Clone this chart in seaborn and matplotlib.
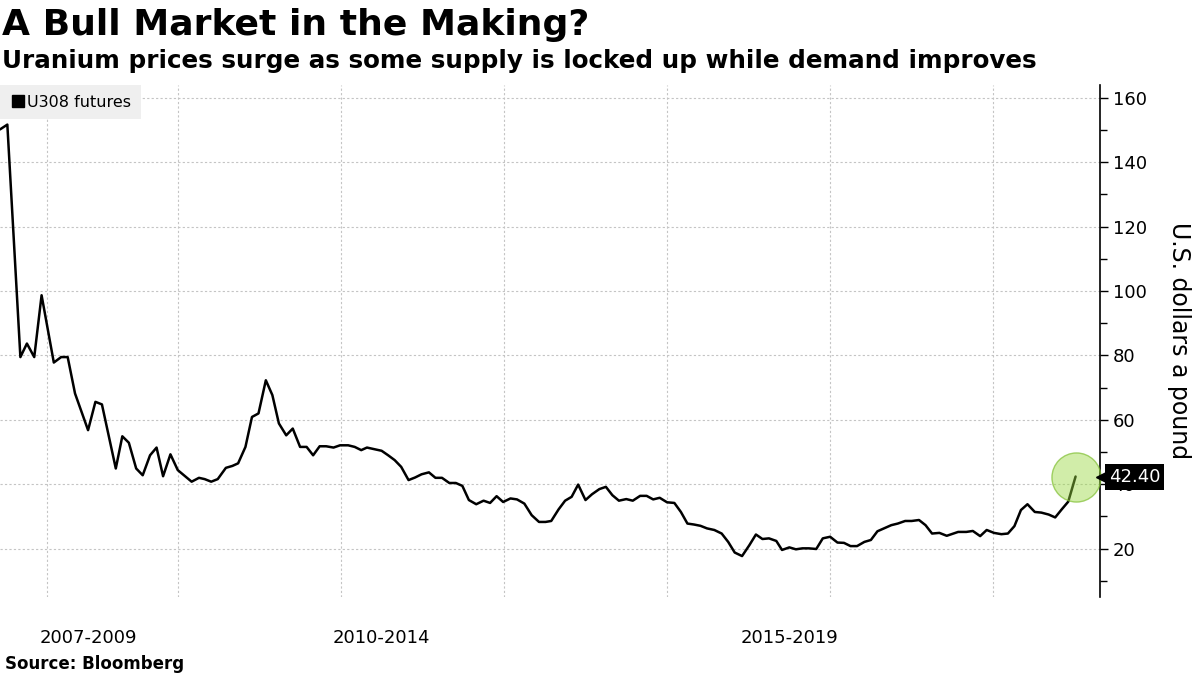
import matplotlib
matplotlib.use("Agg")
import matplotlib.pyplot as plt
from matplotlib.lines import Line2D
import seaborn as sns
import pandas as pd

# monthly U308 futures, x in decimal years
years = [
    2007.82, 2007.91, 2008.07, 2008.15, 2008.24, 2008.33, 2008.48, 2008.57, 2008.65, 2008.74,
    2008.90, 2008.99, 2009.07, 2009.24, 2009.32, 2009.40, 2009.49, 2009.57, 2009.66, 2009.74,
    2009.82, 2009.91, 2010.00, 2010.17, 2010.26, 2010.33, 2010.41, 2010.49, 2010.59, 2010.67,
    2010.74, 2010.83, 2010.91, 2010.99, 2011.08, 2011.16, 2011.24, 2011.33, 2011.41, 2011.50,
    2011.58, 2011.66, 2011.74, 2011.82, 2011.91, 2011.99, 2012.09, 2012.17, 2012.25, 2012.32,
    2012.41, 2012.50, 2012.58, 2012.66, 2012.74, 2012.83, 2012.91, 2012.99, 2013.08, 2013.16,
    2013.24, 2013.33, 2013.41, 2013.49, 2013.57, 2013.66, 2013.75, 2013.83, 2013.91, 2013.99,
    2014.08, 2014.16, 2014.25, 2014.34, 2014.43, 2014.51, 2014.58, 2014.67, 2014.75, 2014.83,
    2014.91, 2015.00, 2015.08, 2015.17, 2015.25, 2015.33, 2015.41, 2015.50, 2015.58, 2015.67,
    2015.75, 2015.83, 2015.91, 2016.00, 2016.09, 2016.17, 2016.25, 2016.33, 2016.41, 2016.49,
    2016.58, 2016.67, 2016.75, 2016.83, 2016.92, 2017.01, 2017.09, 2017.17, 2017.25, 2017.34,
    2017.41, 2017.50, 2017.58, 2017.66, 2017.74, 2017.83, 2017.91, 2018.00, 2018.09, 2018.17,
    2018.25, 2018.33, 2018.42, 2018.50, 2018.58, 2018.66, 2018.75, 2018.83, 2018.92, 2019.00,
    2019.09, 2019.17, 2019.25, 2019.34, 2019.43, 2019.50, 2019.57, 2019.67, 2019.75, 2019.84,
    2019.92, 2020.01, 2020.10, 2020.18, 2020.26, 2020.34, 2020.42, 2020.51, 2020.59, 2020.68,
    2020.76, 2020.84, 2020.92, 2021.01,
]
prices = [
    150.2, 151.7, 79.5, 83.7, 79.5, 98.7, 77.8, 79.5, 79.5, 68.2,
    56.8, 65.6, 64.8, 44.9, 54.9, 52.9, 44.9, 42.8, 49.0, 51.4,
    42.5, 49.3, 44.4, 40.8, 42.0, 41.6, 40.8, 41.6, 45.1, 45.7,
    46.5, 51.6, 60.9, 62.0, 72.3, 67.7, 58.9, 55.2, 57.3, 51.6,
    51.6, 49.0, 51.8, 51.8, 51.4, 52.1, 52.1, 51.6, 50.6, 51.4,
    50.9, 50.4, 49.0, 47.5, 45.4, 41.3, 42.1, 43.1, 43.7, 42.0,
    42.0, 40.4, 40.4, 39.5, 35.1, 33.8, 34.9, 34.2, 36.3, 34.5,
    35.6, 35.3, 34.0, 30.4, 28.3, 28.3, 28.6, 32.2, 34.9, 36.1,
    39.9, 35.1, 36.9, 38.5, 39.2, 36.6, 34.9, 35.4, 34.9, 36.4,
    36.4, 35.3, 35.8, 34.4, 34.2, 31.4, 27.8, 27.5, 27.1, 26.3,
    25.8, 24.7, 22.1, 18.8, 17.7, 21.1, 24.4, 23.0, 23.2, 22.4,
    19.6, 20.4, 19.8, 20.1, 20.1, 19.9, 23.2, 23.7, 21.9, 21.8,
    20.8, 20.8, 22.1, 22.7, 25.4, 26.3, 27.3, 27.8, 28.6, 28.6,
    28.9, 27.3, 24.7, 24.9, 24.0, 24.6, 25.2, 25.2, 25.5, 23.9,
    25.8, 24.9, 24.5, 24.7, 27.0, 32.0, 33.8, 31.4, 31.2, 30.6,
    29.7, 32.2, 34.6, 42.4,
]

period_labels = ["2007-2009", "2010-2014", "2015-2019"]
period_centers = [2008.9, 2012.5, 2017.5]
grid_years = [2008.4, 2010, 2012, 2014, 2016, 2018, 2020]
y_ticks = [20, 40, 60, 80, 100, 120, 140, 160]
last_label = "42.40"

df = pd.DataFrame({"year": years, "price": prices})

sns.set_style("white")
plt.rcParams["font.family"] = ["DejaVu Sans"]
plt.rcParams["text.color"] = "black"
plt.rcParams["axes.labelcolor"] = "black"
plt.rcParams["xtick.color"] = "black"
plt.rcParams["ytick.color"] = "black"

fig = plt.figure(figsize=(12, 6.75), dpi=100)
ax = fig.add_axes([0.0, 0.1156, 0.9167, 0.7585])

sns.lineplot(data=df, x="year", y="price", color="black", linewidth=1.8, ax=ax)

ax.set_xlim(2007.82, 2021.31)
ax.set_ylim(5, 164)

# grid
ax.set_yticks(y_ticks)
ax.set_yticks(range(10, 161, 20), minor=True)
ax.set_xticks(grid_years, minor=True)
ax.set_xticks(period_centers)
ax.set_xticklabels(period_labels, fontsize=13)
ax.grid(axis="y", which="major", color="#c4c4c4", linestyle=(0, (2, 2)), linewidth=0.8)
ax.grid(axis="x", which="minor", color="#c4c4c4", linestyle=(0, (2, 2)), linewidth=0.8)
ax.tick_params(axis="x", which="both", length=0, pad=23)

ax.yaxis.tick_right()
ax.yaxis.set_label_position("right")
ax.tick_params(axis="y", which="major", length=6, width=1, labelsize=13, pad=3)
ax.tick_params(axis="y", which="minor", length=5, width=1)
ax.set_ylabel("U.S. dollars a pound", fontsize=17, rotation=270, labelpad=32)
ax.set_xlabel("")

for side in ["top", "left", "bottom"]:
    ax.spines[side].set_visible(False)
ax.spines["right"].set_color("black")
ax.spines["right"].set_linewidth(1.2)

# highlight last point
ax.scatter([years[-1]], [prices[-1]], s=1250, facecolor=(0.6, 0.85, 0.25, 0.45),
           edgecolor=(0.5, 0.75, 0.2, 0.7), linewidth=1, zorder=5, clip_on=False)

trans = ax.get_yaxis_transform()
ax.plot([1.004], [prices[-1]], marker="<", markersize=11, color="black",
        transform=trans, clip_on=False, zorder=6)
ax.text(1.008, prices[-1], last_label, transform=trans, color="white", fontsize=13,
        va="center", ha="left", zorder=7,
        bbox=dict(boxstyle="square,pad=0.22", facecolor="black", edgecolor="none"))

handle = Line2D([], [], marker="s", color="black", linestyle="none", markersize=8)
leg = ax.legend([handle], ["U308 futures"], loc="upper left", bbox_to_anchor=(0.0, 1.0),
                frameon=True, fancybox=False, facecolor="#efefef", edgecolor="none",
                framealpha=1, fontsize=11.5, handletextpad=0.1, handlelength=1.0,
                borderaxespad=0, borderpad=0.6)

fig.text(0.002, 1 - 35 / 675, "A Bull Market in the Making?", fontsize=26,
         fontweight="bold", va="baseline", ha="left")
fig.text(0.002, 1 - 68 / 675,
         "Uranium prices surge as some supply is locked up while demand improves",
         fontsize=17.7, fontweight="bold", va="baseline", ha="left")
fig.text(0.004, 1 - 669 / 675, "Source: Bloomberg", fontsize=12, fontweight="bold",
         va="baseline", ha="left")

fig.savefig("out.png", dpi=100)
